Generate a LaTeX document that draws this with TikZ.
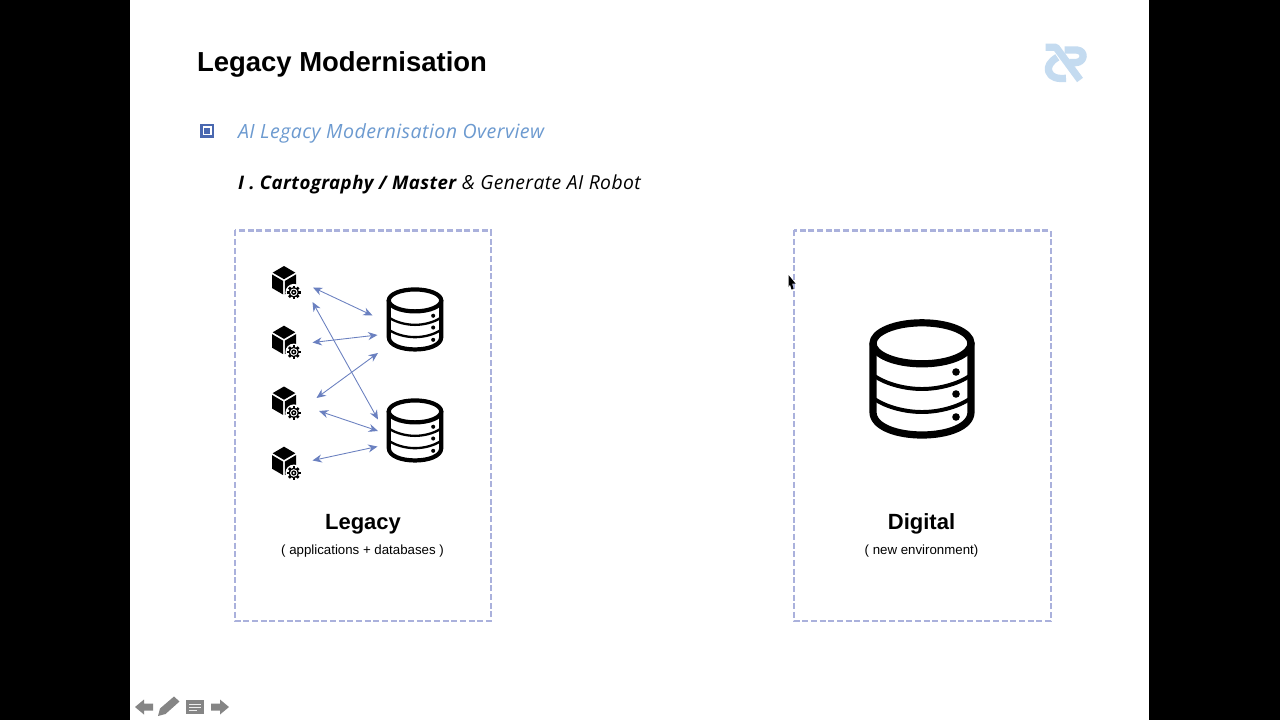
\documentclass[tikz,border=0pt]{standalone}
\usepackage{fontspec}
\setmainfont{Liberation Sans}
\newfontfamily\itfont[LetterSpace=2.2]{Open Sans}
\usetikzlibrary{arrows.meta}
\definecolor{arrowblue}{HTML}{6A80C0}
\definecolor{dashblue}{HTML}{AAB1DC}
\definecolor{headblue}{HTML}{6C9AD0}
\definecolor{bulletblue}{HTML}{4A68B0}
\definecolor{logoblue}{HTML}{C4DBF0}
\definecolor{navgrey}{HTML}{858585}
\tikzset{
  link/.style={arrowblue,line width=0.65pt,{Stealth[length=7pt,width=6pt]}-{Stealth[length=7pt,width=6pt]}},
  panel/.style={draw=dashblue,line width=1.6pt,dash pattern=on 4.5pt off 2pt,fill=white},
  txt/.style={inner sep=0pt,outer sep=0pt,text=black},
  navshape/.style={fill=navgrey,draw=none}
}
% database icon: centre x, centre y, scale, name
\newcommand{\dbicon}[4]{%
  \pgfmathsetmacro{\thk}{5.4*(#3+0.12)/1.12}%
  \coordinate (#4) at (#1,#2);
  \begin{scope}[shift={(#1,#2)},scale=#3,line cap=round,line join=round]
    \draw[line width=\thk pt] (0,-35.7) ellipse [x radius=49,y radius=20.5];
    \draw[line width=\thk pt] (-49,-35.7) -- (-49,33) .. controls (-49,48) and (-25,56) .. (0,56) .. controls (25,56) and (49,48) .. (49,33) -- (49,-35.7);
    \draw[line width=\thk*0.55 pt] (-49,-4) .. controls (-35,6) and (-15,10) .. (0,10) .. controls (15,10) and (35,6) .. (49,-4);
    \draw[line width=\thk*0.55 pt] (-49,19) .. controls (-35,29) and (-15,33) .. (0,33) .. controls (15,33) and (35,29) .. (49,19);
    \fill (34,-7) circle [radius=3.8];
    \fill (34,15) circle [radius=3.8];
    \fill (34,38) circle [radius=3.8];
  \end{scope}}
% application icon: cube top x, cube top y, name
\newcommand{\appicon}[3]{%
  \coordinate (#3) at (#1,#2);
  \begin{scope}[shift={(#1,#2)}]
    \fill (0,0) -- (11.3,6.6) -- (0,13.2) -- (-11.3,6.6) -- cycle;
    \fill (-12,8.4) -- (-0.8,15) -- (-0.8,28.5) -- (-12,22) -- cycle;
    \fill (0.8,15) -- (12,8.4) -- (12,22) -- (0.8,28.5) -- cycle;
    \begin{scope}[shift={(9.8,26.3)}]
      \fill[white] (0,0) circle [radius=8.4];
      \foreach \a in {0,45,...,315}{
        \fill[rotate=\a] (-1.3,-6.8) rectangle (1.3,0);
      }
      \fill (0,0) circle [radius=5.3];
      \fill[white] (0,0) circle [radius=3.8];
      \fill (0,0) circle [radius=2.6];
      \fill[white] (0,0) circle [radius=1.1];
    \end{scope}
  \end{scope}}
\begin{document}
\begin{tikzpicture}[x=0.75pt,y=-0.75pt]
  \useasboundingbox (0,0) rectangle (1280,720);
  \fill[black] (0,0) rectangle (1280,720);
  \fill[white] (130,0) rectangle (1149,720);

  % heading
  \node[txt,anchor=base west,font=\fontsize{20.6}{24}\selectfont\bfseries] (title) at (197,72) {Legacy Modernisation};
  \node[txt,anchor=base west,text=headblue,font=\itfont\fontsize{14.7}{16}\selectfont\itshape] (overview) at (238,138.5) {AI Legacy Modernisation Overview};
  \node[txt,anchor=base west,font=\itfont\fontsize{14.5}{16}\selectfont\itshape] (subtitle) at (238,189.5) {{\fontsize{14}{16}\selectfont\bfseries I . Cartography / Master} \& Generate AI Robot};

  % bullet
  \fill[bulletblue] (200,124) rectangle (214,138);
  \fill[white] (202.5,126.5) rectangle (211.5,135.5);
  \fill[bulletblue] (204,128) rectangle (210,134);

  % logo
  \begin{scope}[logoblue,line width=5.5pt,line join=round,shift={(1030,30)},x=0.25pt,y=-0.25pt]
    \draw (47,52) -- (78,52) -- (150,150);
    \draw (82,82) .. controls (60,95) and (52,110) .. (56,124) .. controls (62,144) and (85,147) .. (108,145);
    \draw (104,60) -- (140,60) .. controls (168,62) and (165,98) .. (135,98) -- (118,98);
  \end{scope}

  % panels
  \draw[panel] (235.3,230.5) rectangle (491,621);
  \draw[panel] (794.3,230.5) rectangle (1050.8,621);

  % legacy apps and databases
  \appicon{284}{266}{appa}
  \appicon{284}{325.7}{appb}
  \appicon{284}{386.5}{appc}
  \appicon{284}{446.7}{appd}
  \dbicon{415}{319.5}{0.535}{dba}
  \dbicon{415}{430.5}{0.535}{dbb}
  \dbicon{922}{379}{1}{dbc}

  % connector ends
  \coordinate (a1) at (313,287.5); \coordinate (b1) at (372.5,315.5);
  \coordinate (a2) at (312.5,342.5); \coordinate (b2) at (377.5,335);
  \coordinate (a3) at (312.5,302); \coordinate (b3) at (378,419.5);
  \coordinate (a4) at (316.5,398); \coordinate (b4) at (378,353);
  \coordinate (a5) at (319,411); \coordinate (b5) at (378,431);
  \coordinate (a6) at (312.5,460.5); \coordinate (b6) at (377.5,446.5);
  \foreach \i in {1,...,6}{ \draw[link] (a\i) -- (b\i); }

  % labels
  \node[txt,font=\fontsize{16.5}{19}\selectfont\bfseries,anchor=base] (legacy) at (363,529) {Legacy};
  \node[txt,font=\fontsize{9.95}{11}\selectfont,anchor=base] (legacysub) at (362.5,554) {( applications + databases )};
  \node[txt,font=\fontsize{16.5}{19}\selectfont\bfseries,anchor=base] (digital) at (921.5,529) {Digital};
  \node[txt,font=\fontsize{9.95}{11}\selectfont,anchor=base] (digitalsub) at (921.5,554.5) {( new environment)};

  % cursor
  \fill (788.5,275) -- (795.5,283.5) -- (792.2,283.5) -- (793.5,289) -- (791.5,289.5) -- (790,284.5) -- (788.5,287) -- cycle;

  % slide navigation
  \fill[navshape] (135,707) -- (144,699.5) -- (144,703.5) -- (153,703.5) -- (153,710.5) -- (144,710.5) -- (144,714.5) -- cycle;
  \fill[navshape] (158,716) -- (160,708.5) -- (174,696.5) -- (179.5,701.5) -- (165.5,714) -- cycle;
  \fill[navshape] (186,700) rectangle (204,714);
  \fill[white!85!navgrey] (189,703.5) rectangle (201,705); \fill[white!85!navgrey] (189,707) rectangle (201,708.2); \fill[white!85!navgrey] (189,710) rectangle (197,711.2);
  \fill[navshape] (229,707) -- (220,699.5) -- (220,703.5) -- (211,703.5) -- (211,710.5) -- (220,710.5) -- (220,714.5) -- cycle;
\end{tikzpicture}
\end{document}
